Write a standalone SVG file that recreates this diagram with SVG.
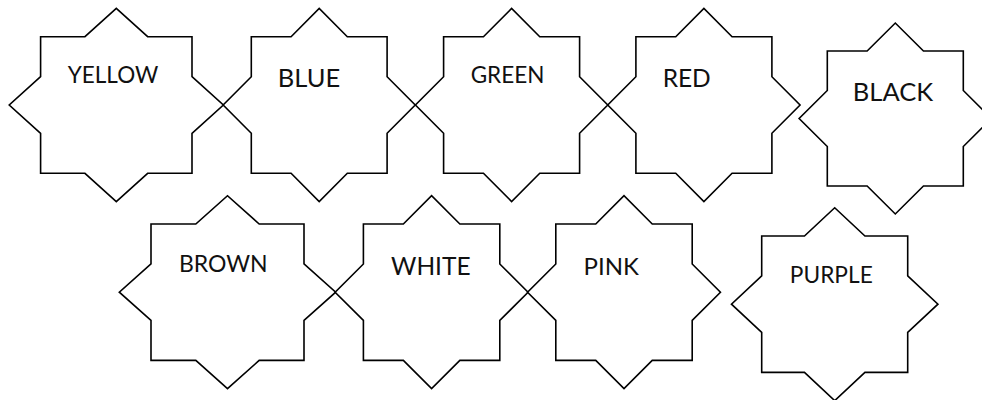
<svg xmlns="http://www.w3.org/2000/svg" width="982" height="400" viewBox="0 0 982 400">
  <style>
    .star { fill: #ffffff; stroke: #000000; stroke-width: 1.6; stroke-linejoin: miter; }
    .lbl { font-family: Lato, "Open Sans", sans-serif; fill: #111111; text-anchor: middle; }
  </style>
  <rect x="0" y="0" width="982" height="400" fill="#ffffff"/>
  <g id="yellow">
    <path class="star" d="M40.6,36.7 L84.94,36.7 L116.3,8.41 L147.66,36.7 L192,36.7 L192,76.71 L223.36,105 L192,133.29 L192,173.3 L147.66,173.3 L116.3,201.59 L84.94,173.3 L40.6,173.3 L40.6,133.29 L9.24,105 L40.6,76.71 Z"/>
    <text class="lbl" x="113" y="83.3" font-size="22.5">YELLOW</text>
  </g>
  <g id="blue">
    <path class="star" d="M251.3,36.7 L291.07,36.7 L319.2,8.41 L347.33,36.7 L387.1,36.7 L387.1,76.71 L415.23,105 L387.1,133.29 L387.1,173.3 L347.33,173.3 L319.2,201.59 L291.07,173.3 L251.3,173.3 L251.3,133.29 L223.17,105 L251.3,76.71 Z"/>
    <text class="lbl" x="309" y="87.3" font-size="25.5">BLUE</text>
  </g>
  <g id="green">
    <path class="star" d="M443.6,36.7 L483.43,36.7 L511.6,8.41 L539.77,36.7 L579.6,36.7 L579.6,76.71 L607.77,105 L579.6,133.29 L579.6,173.3 L539.77,173.3 L511.6,201.59 L483.43,173.3 L443.6,173.3 L443.6,133.29 L415.43,105 L443.6,76.71 Z"/>
    <text class="lbl" x="507.5" y="83.3" font-size="22.5">GREEN</text>
  </g>
  <g id="red">
    <path class="star" d="M635.9,36.7 L675.73,36.7 L703.9,8.41 L732.07,36.7 L771.9,36.7 L771.9,76.71 L800.07,105 L771.9,133.29 L771.9,173.3 L732.07,173.3 L703.9,201.59 L675.73,173.3 L635.9,173.3 L635.9,133.29 L607.73,105 L635.9,76.71 Z"/>
    <text class="lbl" x="686.7" y="87.3" font-size="24.5">RED</text>
  </g>
  <g id="black">
    <path class="star" d="M827.3,51 L867.13,51 L895.3,23.04 L923.47,51 L963.3,51 L963.3,90.54 L991.47,118.5 L963.3,146.46 L963.3,186 L923.47,186 L895.3,213.96 L867.13,186 L827.3,186 L827.3,146.46 L799.13,118.5 L827.3,90.54 Z"/>
    <text class="lbl" x="893" y="100.7" font-size="25.5">BLACK</text>
  </g>
  <g id="brown">
    <path class="star" d="M151,224 L195.81,224 L227.5,195.75 L259.19,224 L304,224 L304,263.95 L335.69,292.2 L304,320.45 L304,360.4 L259.19,360.4 L227.5,388.65 L195.81,360.4 L151,360.4 L151,320.45 L119.31,292.2 L151,263.95 Z"/>
    <text class="lbl" x="223.3" y="272.3" font-size="23">BROWN</text>
  </g>
  <g id="white">
    <path class="star" d="M363.4,224 L403.35,224 L431.6,195.75 L459.85,224 L499.8,224 L499.8,263.95 L528.05,292.2 L499.8,320.45 L499.8,360.4 L459.85,360.4 L431.6,388.65 L403.35,360.4 L363.4,360.4 L363.4,320.45 L335.15,292.2 L363.4,263.95 Z"/>
    <text class="lbl" x="430.8" y="275" font-size="24.5">WHITE</text>
  </g>
  <g id="pink">
    <path class="star" d="M555.8,224 L595.75,224 L624,195.75 L652.25,224 L692.2,224 L692.2,263.95 L720.45,292.2 L692.2,320.45 L692.2,360.4 L652.25,360.4 L624,388.65 L595.75,360.4 L555.8,360.4 L555.8,320.45 L527.55,292.2 L555.8,263.95 Z"/>
    <text class="lbl" x="611.2" y="275" font-size="24">PINK</text>
  </g>
  <g id="purple">
    <path class="star" d="M761.7,236 L804.46,236 L834.7,207.75 L864.94,236 L907.7,236 L907.7,275.95 L937.94,304.2 L907.7,332.45 L907.7,372.4 L864.94,372.4 L834.7,400.65 L804.46,372.4 L761.7,372.4 L761.7,332.45 L731.46,304.2 L761.7,275.95 Z"/>
    <text class="lbl" x="831.3" y="282.7" font-size="22.7">PURPLE</text>
  </g>
</svg>
